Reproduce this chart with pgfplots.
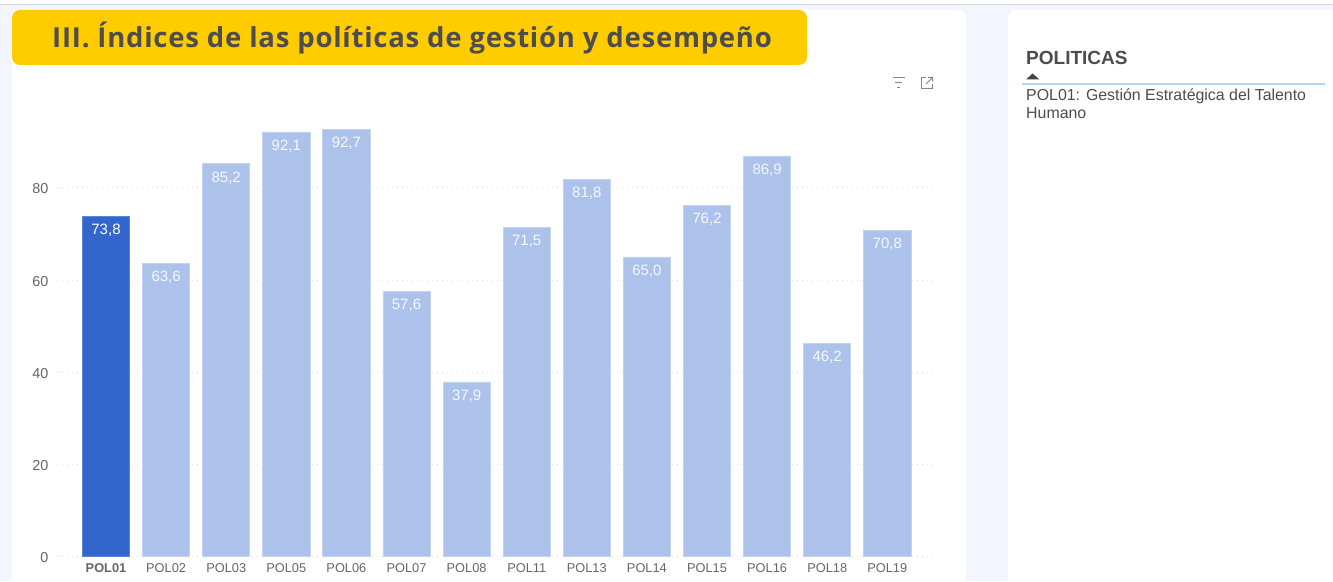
\documentclass[border=0pt]{standalone}
\usepackage{fontspec}
\setmainfont{Liberation Sans}
\newfontfamily\titlefont[LetterSpace=2.75]{Open Sans}
\usepackage{pgfplots}
\pgfplotsset{compat=1.18}
\definecolor{pagebg}{HTML}{F3F6FE}
\definecolor{gold}{HTML}{FFCC00}
\definecolor{titletext}{HTML}{4D4D4D}
\definecolor{darkbar}{HTML}{3366CC}
\definecolor{lightbar}{HTML}{ADC2EB}
\definecolor{lightedge}{HTML}{C4D3F1}
\definecolor{ticktext}{HTML}{666666}
\definecolor{gridc}{HTML}{E0E0E0}
\definecolor{rule}{HTML}{B3D4F5}
\begin{document}
\begin{tikzpicture}
\path[use as bounding box] (0pt,0pt) rectangle (1333pt,581pt);
\begin{scope}[x=1pt,y=-1pt,shift={(0pt,581pt)}]
  \fill[pagebg] (0,0) rectangle (1333,581);
  \fill[white] (0,0) rectangle (1333,4);
  \draw[black!15,line width=1pt] (0,4.5) -- (1333,4.5);
  \begin{scope}
  \clip (0,0) rectangle (1333,581);
  \fill[white,rounded corners=8pt] (12,10) rectangle (966,600);
  \fill[white,rounded corners=8pt] (1008,10) rectangle (1345,600);
  \end{scope}
  \fill[gold,rounded corners=8pt] (12,10) rectangle (807,65);
  \node[anchor=base west,inner sep=0pt,text=titletext] at (52,47.5)
    {\titlefont\fontsize{27.5}{32}\selectfont\bfseries III. Índices de las políticas de gestión y desempeño};
  % filter and expand icons
  \draw[ticktext!80,line width=1pt] (892.5,78) -- (904.5,78) (895,83) -- (902,83) (897,88) -- (900,88);
  \draw[ticktext!80,line width=1pt] (926,78) -- (921,78) -- (921,89) -- (932.5,89) -- (932.5,84);
  \draw[ticktext!80,line width=1pt] (928,77.5) -- (932.5,77.5) -- (932.5,81.5) (932.5,77.5) -- (926,84);
  % right panel
  \node[anchor=base west,inner sep=0pt,text=titletext] at (1026,65)
    {\fontsize{19}{22}\selectfont\bfseries POLITICAS};
  \fill[titletext!90!black] (1026,79.5) -- (1032.5,73.5) -- (1039.5,79.5) -- cycle;
  \draw[rule,line width=1.2pt] (1022,84) -- (1325,84);
  \node[anchor=base west,inner sep=0pt,text=titletext] at (1026,100.5)
    {\fontsize{15.9}{18}\selectfont POL01: Gestión Estratégica del Talento};
  \node[anchor=base west,inner sep=0pt,text=titletext] at (1026,118.5)
    {\fontsize{15.9}{18}\selectfont Humano};
\end{scope}
\begin{axis}[
  at={(57pt,24.2pt)}, anchor=south west,
  scale only axis, width=878pt, height=461.25pt,
  xmin=-0.8153, xmax=13.7937, ymin=0, ymax=100,
  axis x line*=bottom, axis y line*=left,
  x axis line style={draw=none}, y axis line style={draw=none},
  major tick length=0pt,
  ytick={0,20,40,60,80},
  ymajorgrids, grid style={gridc,line width=1pt,dash pattern=on 1.2pt off 3.8pt},
  xtick={0,...,13},
  xticklabels={\textbf{POL01},POL02,POL03,POL05,POL06,POL07,POL08,POL11,POL13,POL14,POL15,POL16,POL18,POL19},
  tick label style={text=ticktext},
  xticklabel style={font=\fontsize{12.8}{15}\selectfont, yshift=-3.5pt},
  yticklabel style={font=\fontsize{14.4}{16}\selectfont, xshift=-5pt, yshift=-1pt,
    /pgf/number format/fixed, /pgf/number format/precision=0, /pgf/number format/assume math mode=true},
  ybar, bar width=47.2pt, bar shift=0pt,
  nodes near coords={\pgfmathprintnumber[fixed,fixed zerofill,precision=1,use comma,assume math mode=true]{\pgfplotspointmeta}},
  every node near coord/.append style={
    anchor=north, yshift=-4pt, text=white,
    font=\fontsize{15}{17}\selectfont},
]
\addplot[fill=darkbar,draw=darkbar!80!white,line width=0.8pt] coordinates {(0,73.8)};
\addplot[fill=lightbar,draw=lightedge,line width=0.8pt,
  every node near coord/.append style={text=white!88!lightbar}] coordinates {
(1,63.6) (2,85.2) (3,92.1) (4,92.7) (5,57.6) (6,37.9) (7,71.5) (8,81.8) (9,65.0) (10,76.2) (11,86.9) (12,46.2) (13,70.8)};
\end{axis}
\end{tikzpicture}
\end{document}
